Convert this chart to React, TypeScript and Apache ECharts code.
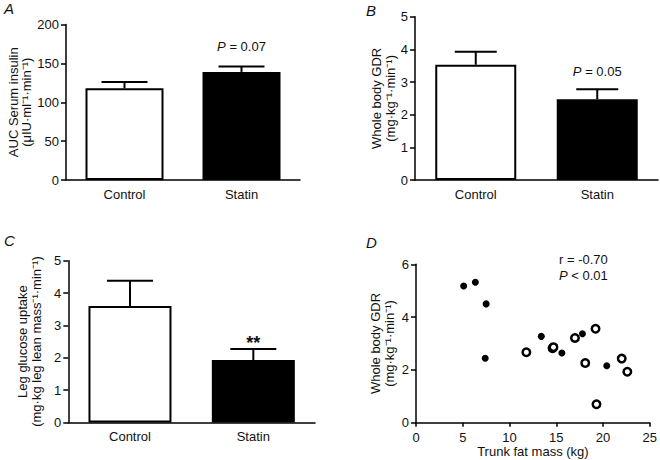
import React, { useEffect, useRef } from "react";
import * as echarts from "echarts";

const categories = ["Control", "Statin"];

// Panel A: AUC serum insulin
const insulinMean = [118, 139];
const insulinSem = [8, 7];
const insulinNotes = ["", "{i|P} = 0.07"];

// Panel B: whole body GDR
const gdrMean = [3.53, 2.47];
const gdrSem = [0.4, 0.31];
const gdrNotes = ["", "{i|P} = 0.05"];

// Panel C: leg glucose uptake
const legMean = [3.6, 1.93];
const legSem = [0.78, 0.34];
const legNotes = ["", "{s|**}"];

// Panel D: trunk fat mass vs whole body GDR
const filledPoints: [number, number][] = [
  [5.1, 5.18], [6.35, 5.32], [7.5, 4.5], [7.4, 2.44], [13.4, 3.27],
  [15.6, 2.64], [17.8, 3.37], [20.4, 2.16],
];
const openPoints: [number, number][] = [
  [11.8, 2.67], [14.6, 2.82], [14.7, 2.86], [17.0, 3.21], [19.2, 3.56],
  [18.1, 2.26], [22.0, 2.43], [22.6, 1.93], [19.3, 0.7],
];

const FONT = '"Liberation Sans", Arial, Helvetica, sans-serif';
const INK = "#111";

function errorSeries(idx: number, means: number[], sems: number[], notes: string[], noteOffset: number, half: number) {
  return {
    type: "custom",
    xAxisIndex: idx,
    yAxisIndex: idx,
    z: 1,
    data: means.map((m, i) => [i, m, m + sems[i]]),
    renderItem: (params: any, api: any) => {
      const base = api.coord([api.value(0), api.value(1)]);
      const top = api.coord([api.value(0), api.value(2)]);
      const children: any[] = [
        { type: "line", shape: { x1: base[0], y1: base[1], x2: top[0], y2: top[1] }, style: { stroke: "#000", lineWidth: 2 } },
        { type: "line", shape: { x1: top[0] - half, y1: top[1], x2: top[0] + half, y2: top[1] }, style: { stroke: "#000", lineWidth: 2 } },
      ];
      const note = notes[params.dataIndex];
      if (note) {
        children.push({
          type: "text",
          x: top[0],
          y: top[1] - noteOffset,
          style: {
            text: note,
            align: "center",
            verticalAlign: "middle",
            fontSize: 13,
            fontFamily: FONT,
            fill: INK,
            rich: {
              i: { fontStyle: "italic", fontSize: 13, fontFamily: FONT, fill: INK },
              s: { fontSize: 18, fontWeight: "bold", fontFamily: FONT, fill: INK },
            },
          },
        });
      }
      return { type: "group", children };
    },
  };
}

function barSeries(idx: number, means: number[], width: number) {
  return {
    type: "bar",
    xAxisIndex: idx,
    yAxisIndex: idx,
    barWidth: width,
    z: 2,
    data: means.map((m, i) => ({
      value: m,
      itemStyle: { color: i === 0 ? "#fff" : "#000", borderColor: "#000", borderWidth: 2 },
    })),
  };
}

const axisLine = { show: true, lineStyle: { color: "#000", width: 1.5 } };
const labelStyle = { color: INK, fontSize: 13, fontFamily: FONT };

function catAxis(idx: number) {
  return {
    type: "category",
    gridIndex: idx,
    data: categories,
    axisLine,
    axisTick: { show: false },
    axisLabel: { ...labelStyle, margin: 8 },
  };
}

function valAxis(idx: number, max: number, interval: number, name: string, gap: number) {
  return {
    type: "value",
    gridIndex: idx,
    min: 0,
    max,
    interval,
    name,
    nameLocation: "middle",
    nameRotate: 90,
    nameGap: gap,
    nameTextStyle: { color: INK, fontSize: 13, fontFamily: FONT, lineHeight: 13.5 },
    axisLine,
    axisTick: { show: true, length: 5, lineStyle: { color: "#000", width: 1.5 } },
    axisLabel: { ...labelStyle, margin: 7 },
    splitLine: { show: false },
  };
}

export default function App() {
  const ref = useRef<HTMLDivElement>(null);
  useEffect(() => {
    if (!ref.current) return;
    const chart = echarts.init(ref.current, undefined, { renderer: "svg" });
    const letter = (t: string, left: number, top: number) => ({
      type: "text",
      left,
      top,
      style: { text: t, fontSize: 15, fontStyle: "italic", fontFamily: FONT, fill: INK },
    });
    chart.setOption({
      animation: false,
      backgroundColor: "#fff",
      grid: [
        { left: 66, top: 24.5, width: 234, height: 155.5 },
        { left: 415, top: 16.7, width: 243, height: 163.3 },
        { left: 68.3, top: 260.7, width: 246.7, height: 161.7 },
        { left: 416, top: 264.3, width: 235.7, height: 158.4 },
      ],
      xAxis: [
        catAxis(0),
        catAxis(1),
        catAxis(2),
        {
          type: "value",
          gridIndex: 3,
          min: 0,
          max: 25,
          interval: 5,
          name: "Trunk fat mass (kg)",
          nameLocation: "middle",
          nameGap: 22,
          nameTextStyle: { color: INK, fontSize: 13, fontFamily: FONT, verticalAlign: "top" },
          axisLine,
          axisTick: { show: true, length: 4, lineStyle: { color: "#000", width: 1.5 } },
          axisLabel: { ...labelStyle, margin: 8 },
          splitLine: { show: false },
        },
      ],
      yAxis: [
        valAxis(0, 200, 50, "AUC Serum insulin\n(μIU·ml⁻¹·min⁻¹)", 30.5),
        valAxis(1, 5, 1, "Whole body GDR\n(mg·kg⁻¹·min⁻¹)", 18),
        valAxis(2, 5, 1, "Leg glucose uptake\n(mg·kg leg lean mass⁻¹·min⁻¹)", 25.5),
        valAxis(3, 6, 2, "Whole body GDR\n(mg·kg⁻¹·min⁻¹)", 20),
      ],
      series: [
        barSeries(0, insulinMean, 78),
        errorSeries(0, insulinMean, insulinSem, insulinNotes, 20, 23),
        barSeries(1, gdrMean, 81),
        errorSeries(1, gdrMean, gdrSem, gdrNotes, 18, 21),
        barSeries(2, legMean, 83),
        errorSeries(2, legMean, legSem, legNotes, 6, 23),
        {
          type: "scatter",
          xAxisIndex: 3,
          yAxisIndex: 3,
          symbol: "circle",
          symbolSize: 7,
          itemStyle: { color: "#000", opacity: 1 },
          data: filledPoints,
        },
        {
          type: "scatter",
          xAxisIndex: 3,
          yAxisIndex: 3,
          symbol: "circle",
          symbolSize: 7.5,
          itemStyle: { color: "#fff", borderColor: "#000", borderWidth: 2.5, opacity: 1 },
          data: openPoints,
        },
      ],
      graphic: [
        letter("A", 4, 1),
        letter("B", 366, 3),
        letter("C", 4, 233),
        letter("D", 366, 235),
        {
          type: "text",
          left: 559,
          top: 251,
          style: {
            text: "r = -0.70\n{i|P} < 0.01",
            fontSize: 13,
            fontFamily: FONT,
            fill: INK,
            lineHeight: 16,
            rich: { i: { fontStyle: "italic", fontSize: 13, fontFamily: FONT, fill: INK, lineHeight: 16 } },
          },
        },
      ],
    });
    return () => chart.dispose();
  }, []);
  return <div ref={ref} style={{ position: "fixed", left: 0, top: 0, width: 660, height: 460, background: "#fff" }} />;
}
